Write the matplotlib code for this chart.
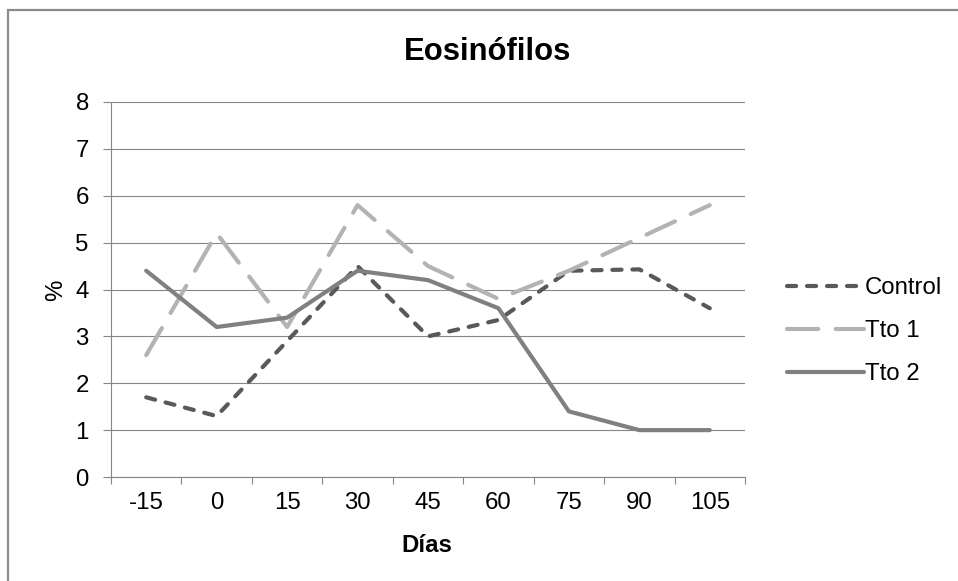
import matplotlib
matplotlib.use("Agg")
import matplotlib.pyplot as plt
from matplotlib.patches import Rectangle
import numpy as np

plt.rcParams['font.family'] = ['Liberation Sans', 'DejaVu Sans']

# Datos
dias = ["-15", "0", "15", "30", "45", "60", "75", "90", "105"]
control = [1.7, 1.3, 2.9, 4.5, 3.0, 3.35, 4.4, 4.43, 3.6]
tto1 = [2.6, 5.2, 3.2, 5.8, 4.5, 3.8, 4.4, 5.1, 5.8]
tto2 = [4.4, 3.2, 3.4, 4.4, 4.2, 3.6, 1.4, 1.0, 1.0]

W, H = 958, 581
fig = plt.figure(figsize=(W / 100, H / 100), dpi=100)
ax = fig.add_axes([111 / W, (H - 477) / H, (745 - 111) / W, (477 - 102) / H])

gris = "#868686"
fs = 17.3
x = np.arange(len(dias))

l1, = ax.plot(x, control, color="#595959", lw=3, dashes=(2.2, 2.6),
              dash_capstyle="round", solid_capstyle="round", label="Control")
l2, = ax.plot(x, tto1, color="#b3b3b3", lw=3, dashes=(7.5, 4.2),
              dash_capstyle="round", label="Tto 1")
l3, = ax.plot(x, tto2, color="#808080", lw=3, solid_capstyle="round",
              solid_joinstyle="round", label="Tto 2")

ax.set_xlim(-0.5, len(dias) - 0.5)
ax.set_ylim(0, 8)
ax.set_yticks(range(0, 9))
ax.yaxis.grid(True, color=gris, lw=0.8)
ax.set_axisbelow(True)

ax.set_xticks(x)
ax.set_xticklabels(dias)
ax.set_xticks(np.arange(-0.5, len(dias)), minor=True)
ax.tick_params(axis="x", which="major", length=0, pad=11, labelsize=fs)
ax.tick_params(axis="x", which="minor", length=5, color=gris, width=0.8)
ax.tick_params(axis="y", length=5.5, color=gris, width=0.8, pad=10.5, labelsize=fs)

for s in ["top", "right"]:
    ax.spines[s].set_visible(False)
for s in ["left", "bottom"]:
    ax.spines[s].set_color(gris)
    ax.spines[s].set_linewidth(0.8)

# Textos
fig.text(488 / W, (H - 60) / H, "Eosinófilos", fontsize=22.3, weight="bold",
         ha="center", va="baseline")
fig.text(427 / W, (H - 552) / H, "Días", fontsize=fs, weight="bold",
         ha="center", va="baseline")
fig.text(56 / W, (H - 290) / H, "%", fontsize=fs, rotation=90,
         ha="center", va="center")

fig.legend(handles=[l1, l2, l3], loc="upper left",
           bbox_to_anchor=(787 / W, (H - 277) / H), frameon=False,
           fontsize=fs, handlelength=3.2, handletextpad=0.05,
           labelspacing=0.88, borderpad=0, borderaxespad=0)

# Borde del gráfico
fig.patches.append(Rectangle((8 / W, -0.1), 1.2, (H - 10) / H + 0.1,
                             transform=fig.transFigure, fill=False,
                             edgecolor="#8c8c8c", lw=1.6))

plt.savefig("out.png", dpi=100)
